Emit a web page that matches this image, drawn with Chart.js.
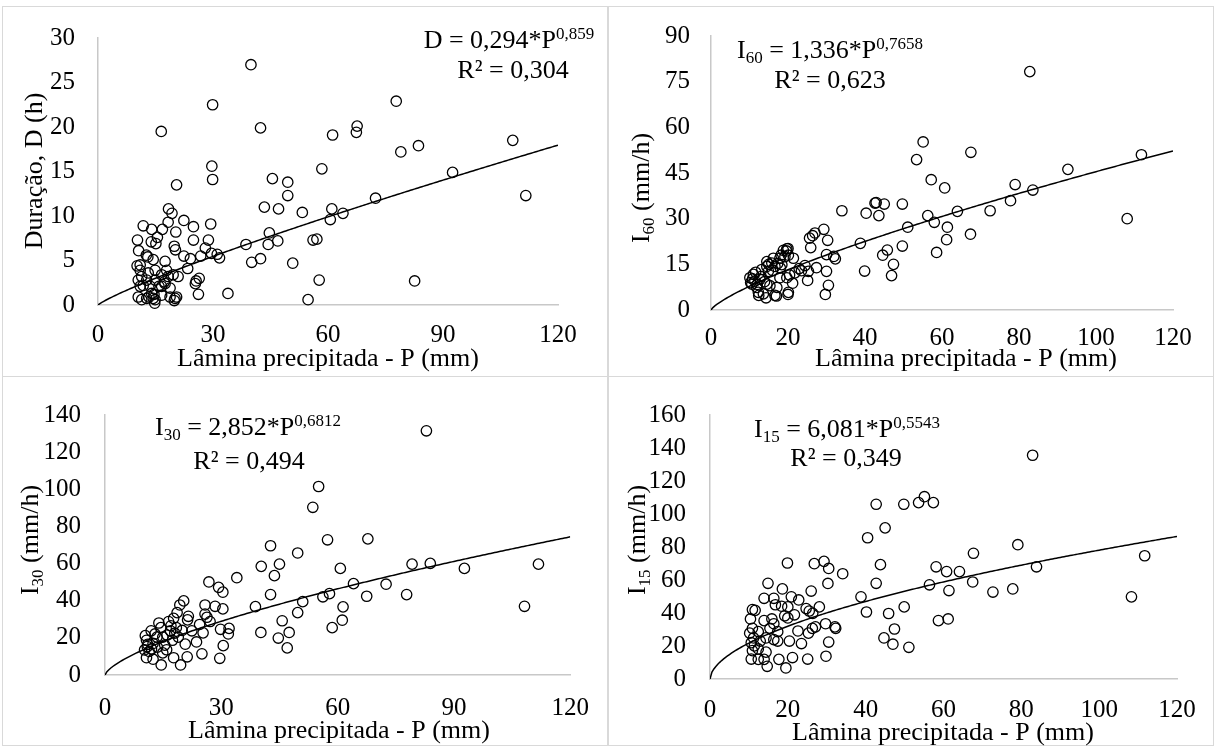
<!DOCTYPE html>
<html>
<head>
<meta charset="utf-8">
<script src="https://cdn.jsdelivr.net/npm/chart.js@4.4.1/dist/chart.umd.min.js"></script>
<style>
  html, body { margin: 0; padding: 0; background: #fff; }
  #wrap { position: relative; width: 1215px; height: 747px; overflow: hidden; background: #fff; }
  .frame { position: absolute; border: 1px solid #d9d9d9; box-sizing: border-box; }
  canvas { position: absolute; }
</style>
</head>
<body>
<div id="wrap"></div>
<script>
// Rainfall events: precipitation depth P (mm) against duration and peak intensities
const durPoints = [
  [39.9,27.0],[29.9,22.5],[77.8,22.9],[16.5,19.5],[42.4,19.9],[67.6,20.1],[67.4,19.4],[61.2,19.1],[108.2,18.5],[83.6,17.9],
  [79.0,17.2],[29.7,15.6],[58.4,15.3],[92.5,14.9],[29.9,14.1],[45.5,14.2],[49.5,13.8],[20.5,13.5],[49.5,12.3],[111.6,12.3],
  [72.4,12.0],[43.4,11.0],[47.1,10.8],[18.4,10.8],[19.3,10.3],[61.0,10.8],[63.9,10.3],[53.3,10.4],[60.6,9.6],[22.4,9.5],
  [18.3,9.3],[29.4,9.1],[11.8,8.9],[14.0,8.5],[16.8,8.5],[24.9,8.8],[20.3,8.2],[44.7,8.1],[10.3,7.3],[24.9,7.3],
  [28.8,7.3],[46.9,7.2],[56.1,7.3],[57.1,7.4],[13.9,7.1],[15.5,7.6],[15.1,6.9],[38.6,6.8],[44.4,6.8],[19.9,6.6],
  [20.2,6.2],[10.6,6.1],[28.0,6.4],[29.6,5.8],[31.1,5.7],[31.7,5.3],[12.6,5.6],[13.0,5.4],[22.4,5.5],[24.1,5.2],
  [26.8,5.5],[42.4,5.2],[40.1,4.8],[50.8,4.7],[14.4,5.1],[17.5,4.9],[10.2,4.4],[23.4,4.1],[57.7,2.8],[82.6,2.7],
  [33.9,1.3],[54.8,0.6],[26.2,1.2],[26.4,3.0],[25.6,2.7],[25.4,2.4],[10.5,2.8],[11.0,3.9],[11.4,3.2],[11.0,2.1],
  [11.8,2.2],[10.5,0.9],[11.4,0.6],[13.1,3.6],[12.7,2.8],[13.6,2.1],[14.0,1.3],[14.4,0.75],[14.9,2.8],[14.9,3.9],
  [16.6,3.4],[16.6,2.1],[16.6,1.1],[17.5,2.4],[17.9,3.9],[18.3,3.2],[18.8,1.9],[18.8,0.9],[20.1,0.75],[19.6,3.4],
  [20.9,3.2],[20.5,0.9],[14.9,0.6],[12.7,0.75],[11.0,4.5],[14.6,1.2],[14.8,0.2],[19.9,0.5],[15.9,2.1],[17.3,2.6],
  [13.3,0.9]
];

const i60Points = [
  [82.8,78.3],[55.1,55.2],[53.4,49.4],[67.5,51.8],[111.8,51.0],[57.2,42.8],[60.7,40.1],[79.0,41.2],[83.6,39.4],[92.7,46.2],
  [77.8,35.9],[34.0,32.6],[40.3,31.8],[42.6,35.1],[42.9,35.3],[45.0,34.8],[43.6,31.0],[49.7,34.8],[56.3,31.0],[58.0,28.8],
  [64.0,32.4],[72.5,32.6],[108.1,30.0],[51.1,27.2],[61.4,27.2],[61.2,23.1],[67.4,24.9],[49.7,21.0],[38.8,21.9],[58.6,18.9],
  [45.8,19.7],[44.6,18.0],[47.4,15.0],[46.9,11.3],[39.9,12.8],[29.3,26.5],[27.0,25.3],[26.4,24.4],[25.6,23.6],[25.9,20.5],
  [30.3,22.9],[30.0,18.2],[31.9,17.6],[32.3,16.8],[27.4,13.9],[30.0,12.7],[25.3,12.7],[25.1,9.7],[30.5,8.1],[29.7,5.1],
  [24.4,14.6],[22.9,13.6],[21.4,17.0],[20.0,20.2],[19.6,19.4],[18.2,18.0],[21.2,8.8],[20.0,5.1],[20.4,11.5],[17.0,4.6],
  [14.3,4.0],[12.4,4.8],[10.1,10.6],[10.6,8.5],[11.0,11.7],[11.4,9.5],[11.9,7.4],[12.7,10.1],[12.3,5.8],[13.6,5.3],
  [14.5,14.3],[14.9,12.7],[14.5,8.5],[15.3,8.0],[15.8,15.4],[16.2,17.0],[16.6,14.3],[17.1,7.4],[16.6,4.8],[17.9,17.0],
  [18.4,14.9],[18.8,19.6],[19.7,20.1],[19.2,17.5],[20.1,18.0],[19.7,10.6],[20.1,5.8],[17.9,10.6],[13.2,13.3],[14.5,15.9],
  [10.3,9.0],[10.8,10.2],[11.6,12.4],[12.0,8.4],[13.0,11.0],[13.9,9.3],[15.0,15.0],[16.0,13.0],[17.3,15.2],[18.0,13.8],
  [21.8,12.2],[23.5,12.9]
];

const i30Points = [
  [82.9,131.5],[55.1,101.5],[53.6,90.3],[57.4,72.8],[67.8,73.3],[42.7,69.6],[49.7,65.7],[40.3,58.5],[45.0,59.7],[79.2,59.7],
  [83.9,60.1],[92.7,57.4],[111.8,59.7],[60.7,57.4],[34.0,52.4],[43.7,53.5],[26.8,50.1],[29.3,47.2],[30.4,44.6],[64.1,49.2],
  [72.5,48.9],[42.7,43.3],[57.9,43.8],[56.2,42.1],[67.5,42.4],[77.8,43.3],[38.8,36.8],[51.0,39.5],[61.4,36.7],[108.2,37.0],
  [49.7,33.6],[25.8,37.7],[28.4,37.0],[30.4,35.6],[25.8,32.8],[26.3,31.1],[27.1,28.8],[24.4,27.2],[45.7,29.2],[61.2,29.5],
  [58.6,25.5],[40.2,22.9],[47.5,22.9],[44.7,19.9],[47.0,14.6],[29.8,24.6],[32.0,25.1],[31.8,22.1],[25.3,22.7],[30.5,15.8],
  [29.6,9.0],[25.0,11.4],[23.6,17.8],[22.4,23.8],[21.5,31.6],[21.3,29.7],[20.3,39.9],[19.3,37.7],[18.6,33.6],[17.7,30.5],
  [21.2,9.8],[19.5,5.4],[20.7,16.6],[14.5,5.4],[17.7,9.3],[10.4,21.2],[10.7,18.7],[10.9,15.3],[11.4,12.7],[10.7,9.3],
  [12.4,17.0],[12.9,22.1],[12.4,8.5],[13.9,28.0],[14.4,25.5],[14.9,20.4],[15.4,16.1],[14.9,11.9],[16.4,28.8],[16.9,23.8],
  [17.4,18.7],[18.4,25.5],[18.9,20.4],[15.9,13.6],[13.4,20.4],[11.9,23.8],[10.2,13.5],[11.0,16.5],[12.0,14.0],[13.5,15.0],
  [16.0,21.5],[17.0,26.5],[18.0,22.5],[19.9,24.0]
];

const i15Points = [
  [82.9,135.6],[55.1,110.5],[53.6,106.9],[57.4,106.9],[49.8,105.9],[42.7,105.9],[45.0,91.6],[40.5,85.6],[79.1,81.4],[67.7,76.2],
  [111.7,74.7],[43.8,69.3],[19.9,70.3],[26.8,69.9],[29.3,71.3],[30.5,67.0],[34.1,63.8],[58.1,68.0],[60.8,65.1],[64.1,65.1],
  [83.9,68.0],[30.3,57.9],[14.9,58.0],[42.7,58.0],[56.4,57.1],[67.5,58.8],[61.4,53.6],[72.7,52.7],[77.8,54.6],[108.3,49.8],
  [26.0,53.3],[38.8,49.8],[18.6,54.6],[20.9,49.8],[22.8,47.9],[13.9,48.9],[16.4,48.9],[18.4,44.1],[20.0,43.7],[16.8,45.0],
  [28.1,43.7],[24.7,42.7],[25.5,41.2],[26.4,39.8],[21.7,38.9],[20.0,37.0],[49.9,43.7],[40.2,40.6],[45.9,39.7],[58.7,35.4],
  [61.2,36.4],[29.7,33.5],[32.1,31.6],[32.3,30.7],[27.1,31.6],[26.3,30.7],[47.4,30.3],[44.7,24.9],[47.0,21.1],[51.1,19.2],
  [30.5,22.4],[22.6,29.1],[25.3,27.8],[23.5,21.5],[20.4,23.0],[29.8,13.8],[25.1,12.1],[21.2,13.0],[19.5,6.7],[17.7,11.9],
  [14.7,7.7],[13.9,11.9],[12.4,11.9],[10.6,12.1],[10.4,36.4],[10.9,42.1],[11.6,41.6],[10.2,27.8],[10.9,30.7],[11.2,24.9],
  [10.6,22.0],[11.4,20.1],[10.9,17.2],[12.4,28.7],[12.9,23.0],[12.4,18.2],[13.9,35.4],[14.4,24.9],[14.4,16.3],[15.4,30.7],
  [15.9,36.4],[16.4,23.9],[16.4,33.5],[17.4,28.7],[17.4,23.0],[19.2,38.3]
];

// Power-law fits y = a * P^b : [a, b]
const durFit = [0.294, 0.859];
const i60Fit = [1.336, 0.7658];
const i30Fit = [2.852, 0.6812];
const i15Fit = [6.081, 0.5543];

// Axis ranges: [max, step]
const xAxisA = [120, 30];
const xAxisB = [120, 20];
const durAxis = [30, 5];
const i60Axis = [90, 15];
const i30Axis = [140, 20];
const i15Axis = [160, 20];

const xTitleText = 'Lâmina precipitada - P (mm)';

const SERIF = '"Liberation Serif", "Times New Roman", serif';

function fitCurve(coef, maxP) {
  const pts = [];
  for (let p = 0; p <= maxP + 1e-9; p += 0.5) {
    pts.push({ x: p, y: coef[0] * Math.pow(p, coef[1]) });
  }
  return pts;
}

function drawRich(ctx, segs, x, y, align) {
  let w = 0;
  segs.forEach(s => { ctx.font = s[1] + 'px ' + SERIF; w += ctx.measureText(s[0]).width; });
  let cx = align === 'center' ? x - w / 2 : (align === 'right' ? x - w : x);
  ctx.textAlign = 'left';
  ctx.textBaseline = 'alphabetic';
  ctx.fillStyle = '#000';
  segs.forEach(s => {
    ctx.font = s[1] + 'px ' + SERIF;
    ctx.fillText(s[0], cx, y + (s[2] || 0));
    cx += ctx.measureText(s[0]).width;
  });
}

const panels = [
  {
    canvas: [0, 0, 607, 376], frame: [2, 6, 606, 371], area: [98, 38, 558, 305],
    points: durPoints, fit: durFit, xAxis: xAxisA, yAxis: durAxis, xPad: 15, yPad: 23,
    xTitle: [328, 366], yTitle: [42, 171, [['Duração, D (h)', 26]]],
    eq: [509, 48, [['D = 0,294*P', 26], ['0,859', 17, -9]]],
    r2: [513, 78, [['R² = 0,304', 26]]]
  },
  {
    canvas: [607, 0, 608, 376], frame: [608, 6, 606, 371], area: [711, 27, 1173, 310],
    points: i60Points, fit: i60Fit, xAxis: xAxisB, yAxis: i60Axis, xPad: 13, yPad: 21,
    xTitle: [966, 366], yTitle: [649, 188, [['I', 26], ['60', 17, 5], [' (mm/h)', 26]]],
    eq: [830, 58, [['I', 26], ['60', 17, 5], [' = 1,336*P', 26], ['0,7658', 17, -9]]],
    r2: [830, 88, [['R² = 0,623', 26]]]
  },
  {
    canvas: [0, 376, 607, 371], frame: [2, 376, 606, 370], area: [105, 402, 573, 675],
    points: i30Points, fit: i30Fit, xAxis: xAxisA, yAxis: i30Axis, xPad: 18, yPad: 24,
    xTitle: [339, 738], yTitle: [38, 540, [['I', 26], ['30', 17, 5], [' (mm/h)', 26]]],
    eq: [248, 435, [['I', 26], ['30', 17, 5], [' = 2,852*P', 26], ['0,6812', 17, -9]]],
    r2: [249, 469, [['R² = 0,494', 26]]]
  },
  {
    canvas: [607, 376, 608, 371], frame: [608, 376, 606, 370], area: [710, 399, 1177, 679],
    points: i15Points, fit: i15Fit, xAxis: xAxisB, yAxis: i15Axis, xPad: 16, yPad: 24,
    xTitle: [943, 740], yTitle: [645, 540, [['I', 26], ['15', 17, 5], [' (mm/h)', 26]]],
    eq: [847, 437, [['I', 26], ['15', 17, 5], [' = 6,081*P', 26], ['0,5543', 17, -9]]],
    r2: [846, 466, [['R² = 0,349', 26]]]
  }
];

const wrap = document.getElementById('wrap');

panels.forEach(pn => {
  const fr = document.createElement('div');
  fr.className = 'frame';
  fr.style.left = pn.frame[0] + 'px';
  fr.style.top = pn.frame[1] + 'px';
  fr.style.width = pn.frame[2] + 'px';
  fr.style.height = pn.frame[3] + 'px';
  wrap.appendChild(fr);

  const [cx, cy, cw, ch] = pn.canvas;
  const [L, T, R, B] = pn.area;
  const cv = document.createElement('canvas');
  cv.width = cw; cv.height = ch;
  cv.style.left = cx + 'px'; cv.style.top = cy + 'px';
  cv.style.width = cw + 'px'; cv.style.height = ch + 'px';
  wrap.appendChild(cv);

  const labels = {
    id: 'panelText',
    afterDraw(chart) {
      const ctx = chart.ctx;
      ctx.save();
      drawRich(ctx, [[xTitleText, 26]], pn.xTitle[0] - cx, pn.xTitle[1] - cy, 'center');
      drawRich(ctx, pn.eq[2], pn.eq[0] - cx, pn.eq[1] - cy, 'center');
      drawRich(ctx, pn.r2[2], pn.r2[0] - cx, pn.r2[1] - cy, 'center');
      ctx.translate(pn.yTitle[0] - cx, pn.yTitle[1] - cy);
      ctx.rotate(-Math.PI / 2);
      drawRich(ctx, pn.yTitle[2], 0, 0, 'center');
      ctx.restore();
    }
  };

  const tickFont = { family: SERIF, size: 25 };

  new Chart(cv, {
    type: 'scatter',
    data: {
      datasets: [
        {
          type: 'line',
          data: fitCurve(pn.fit, pn.xAxis[0]),
          borderColor: '#000',
          borderWidth: 1.5,
          pointRadius: 0,
          fill: false,
          tension: 0,
          order: 2
        },
        {
          data: pn.points.map(p => ({ x: p[0], y: p[1] })),
          pointStyle: 'circle',
          pointRadius: 5.2,
          pointBorderWidth: 1.3,
          pointBorderColor: '#000',
          pointBackgroundColor: 'rgba(0,0,0,0)',
          showLine: false,
          clip: false,
          order: 1
        }
      ]
    },
    options: {
      responsive: false,
      animation: false,
      devicePixelRatio: 1,
      layout: { padding: { left: 0, top: T - cy, right: cx + cw - R, bottom: 0 } },
      plugins: { legend: { display: false }, tooltip: { enabled: false } },
      scales: {
        x: {
          type: 'linear', min: 0, max: pn.xAxis[0],
          ticks: { stepSize: pn.xAxis[1], padding: pn.xPad, font: tickFont, color: '#000', maxRotation: 0 },
          grid: { display: false, drawTicks: false },
          border: { display: true, color: '#c8c8c8', width: 1.5 },
          afterFit: s => { s.height = cy + ch - B; }
        },
        y: {
          type: 'linear', min: 0, max: pn.yAxis[0],
          ticks: { stepSize: pn.yAxis[1], padding: pn.yPad, font: tickFont, color: '#000' },
          grid: { display: false, drawTicks: false },
          border: { display: true, color: '#c8c8c8', width: 1.5 },
          afterFit: s => { s.width = L - cx; }
        }
      }
    },
    plugins: [labels]
  });
});
</script>
</body>
</html>
